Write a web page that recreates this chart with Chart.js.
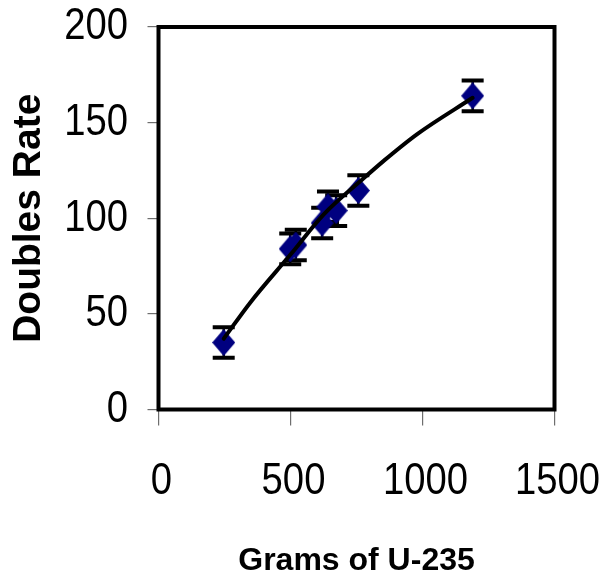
<!DOCTYPE html>
<html>
<head>
<meta charset="utf-8">
<script src="https://cdn.jsdelivr.net/npm/chart.js@4/dist/chart.umd.min.js"></script>
<style>
  html, body { margin: 0; padding: 0; background: #ffffff; }
  #wrap { width: 603px; height: 576px; }
</style>
</head>
<body>
<div id="wrap"><canvas id="c" width="603" height="576"></canvas></div>
<script>
// Measured doubles rate against U-235 mass
const grams = [247, 499, 520, 620, 642, 673, 757, 1190];
const doublesRate = [35, 84, 86, 97.5, 106, 104, 114.5, 164];
const rateError = [8, 8, 8, 8, 8, 8, 8, 8];

// Fitted trend curve, sampled along the data range
const trendGrams = [247, 348, 500, 626, 778, 853, 980, 1190];
const trendRate = [37, 56, 81, 102, 121, 130, 144, 163];

// Axis ticks
const xTicks = [0, 500, 1000, 1500];
const yTicks = [0, 50, 100, 150, 200];

const SANS = "'Liberation Sans', Arial, sans-serif";
const TICK_FONT = "45px " + SANS;
const TICK_SQUEEZE = 0.85; // condensed numerals

// Navy diamond marker
function diamondMarker(w, h, color) {
  const cv = document.createElement('canvas');
  cv.width = w; cv.height = h;
  const g = cv.getContext('2d');
  g.fillStyle = color;
  g.beginPath();
  g.moveTo(w / 2, 0);
  g.lineTo(w, h / 2);
  g.lineTo(w / 2, h);
  g.lineTo(0, h / 2);
  g.closePath();
  g.fill();
  return cv;
}
const marker = diamondMarker(23, 27, '#000080');

// Vertical error bars with caps, drawn underneath the markers
const errorBars = {
  id: 'errorBars',
  beforeDatasetsDraw(chart) {
    const { ctx, scales: { x, y } } = chart;
    ctx.save();
    ctx.strokeStyle = '#000000';
    ctx.lineCap = 'butt';
    for (let i = 0; i < grams.length; i++) {
      const px = x.getPixelForValue(grams[i]);
      const top = y.getPixelForValue(doublesRate[i] + rateError[i]);
      const bot = y.getPixelForValue(doublesRate[i] - rateError[i]);
      ctx.lineWidth = 2.5;
      ctx.beginPath();
      ctx.moveTo(px, top); ctx.lineTo(px, bot);
      ctx.stroke();
      ctx.lineWidth = 4;
      ctx.beginPath();
      ctx.moveTo(px - 11, top); ctx.lineTo(px + 11, top);
      ctx.moveTo(px - 11, bot); ctx.lineTo(px + 11, bot);
      ctx.stroke();
    }
    ctx.restore();
  }
};

// Heavy frame around the plotting area plus condensed tick numerals
const plotFrame = {
  id: 'plotFrame',
  afterDraw(chart) {
    const { ctx, chartArea: a, scales: { x, y } } = chart;
    ctx.save();
    ctx.strokeStyle = '#000000';
    ctx.lineWidth = 4;
    ctx.strokeRect(a.left, a.top, a.right - a.left, a.bottom - a.top);

    ctx.fillStyle = '#000000';
    ctx.font = TICK_FONT;
    ctx.textBaseline = 'middle';
    // y axis numerals, right-aligned left of the tick marks
    ctx.textAlign = 'right';
    yTicks.forEach(v => {
      ctx.save();
      ctx.translate(a.left - 30.5, y.getPixelForValue(v));
      ctx.scale(TICK_SQUEEZE, 1);
      ctx.fillText(String(v), 0, 0);
      ctx.restore();
    });
    // x axis numerals, centred below the tick marks
    ctx.textAlign = 'center';
    xTicks.forEach(v => {
      ctx.save();
      ctx.translate(x.getPixelForValue(v) + 3, a.bottom + 72);
      ctx.scale(TICK_SQUEEZE, 1);
      ctx.fillText(String(v), 0, 0);
      ctx.restore();
    });
    ctx.restore();
  }
};

function noPadding(s) {
  s.paddingLeft = 0; s.paddingRight = 0; s.paddingTop = 0; s.paddingBottom = 0;
}

const points = grams.map((g, i) => ({ x: g, y: doublesRate[i] }));
const trend = trendGrams.map((g, i) => ({ x: g, y: trendRate[i] }));

new Chart(document.getElementById('c'), {
  type: 'scatter',
  data: {
    datasets: [
      {
        label: 'Trend',
        data: trend,
        showLine: true,
        borderColor: '#000000',
        borderWidth: 4,
        borderCapStyle: 'round',
        cubicInterpolationMode: 'monotone',
        pointRadius: 0,
        order: 0
      },
      {
        label: 'Doubles Rate',
        data: points,
        pointStyle: marker,
        pointRadius: 12,
        order: 1
      }
    ]
  },
  options: {
    responsive: false,
    animation: false,
    layout: { padding: { top: 27, right: 48.5, bottom: 0, left: 0 } },
    plugins: { legend: { display: false }, tooltip: { enabled: false } },
    scales: {
      x: {
        type: 'linear',
        min: xTicks[0],
        max: xTicks[xTicks.length - 1],
        afterBuildTicks(s) { s.ticks = xTicks.map(v => ({ value: v })); },
        afterFit(s) { s.height = 166.5; noPadding(s); },
        border: { display: false },
        grid: { drawOnChartArea: false, drawTicks: true, tickLength: 16, color: '#6e6e6e', lineWidth: 1.2 },
        ticks: { display: false },
        title: {
          display: true,
          text: 'Grams of U-235',
          color: '#000000',
          padding: { top: 0, bottom: 0 },
          font: { family: SANS, size: 32, weight: 'bold', lineHeight: 0.9 }
        }
      },
      y: {
        type: 'linear',
        min: yTicks[0],
        max: yTicks[yTicks.length - 1],
        afterBuildTicks(s) { s.ticks = yTicks.map(v => ({ value: v })); },
        afterFit(s) { s.width = 158.5; noPadding(s); },
        border: { display: false },
        grid: { drawOnChartArea: false, drawTicks: true, tickLength: 11, color: '#6e6e6e', lineWidth: 1.2 },
        ticks: { display: false },
        title: {
          display: true,
          text: 'Doubles Rate',
          color: '#000000',
          padding: { top: 9.5, bottom: 0 },
          font: { family: SANS, size: 39, weight: 'bold', lineHeight: 1 }
        }
      }
    }
  },
  plugins: [errorBars, plotFrame]
});
</script>
</body>
</html>
